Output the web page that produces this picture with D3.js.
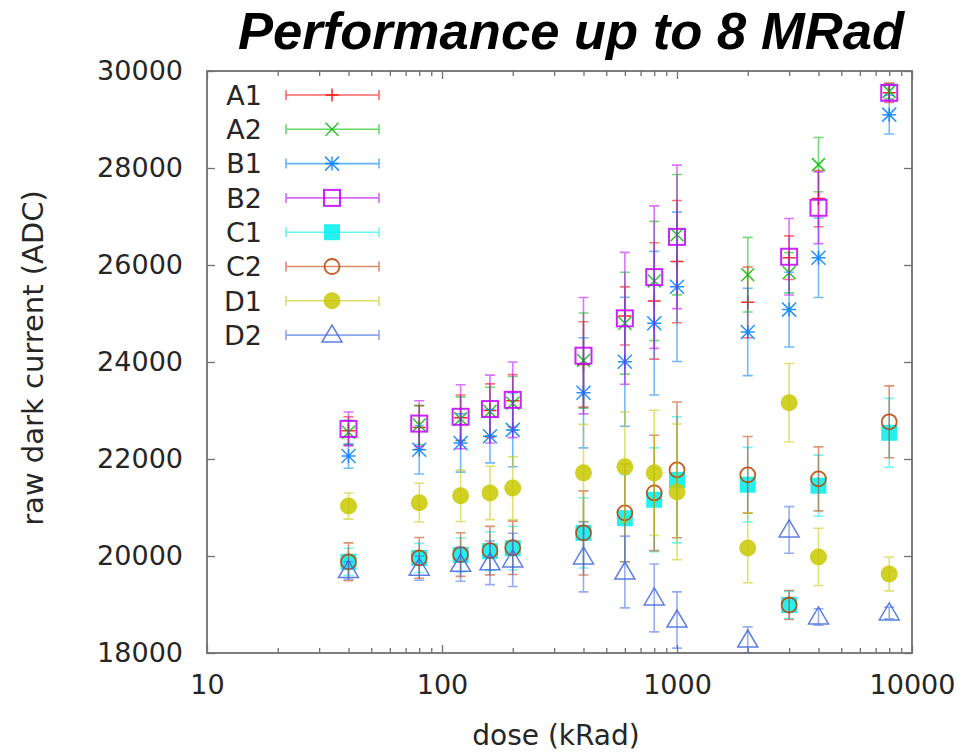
<!DOCTYPE html>
<html><head><meta charset="utf-8">
<script src="https://cdn.jsdelivr.net/npm/d3@7"></script>
<style>body{margin:0;background:#fff}svg{display:block}</style>
</head><body>
<svg id="c" width="973" height="754"></svg>
<script>
const doses = [40,80,120,160,200,400,600,800,1000,2000,3000,4000,8000];
const seriesNames = ["A1","A2","B1","B2","C1","C2","D1","D2"];
const seriesColors = ["#ff0000","#00c000","#0080ff","#c000ff","#00eeee","#c04000","#c8c800","#4169e1"];
const A1 = [22580,22650,22850,23000,23200,23950,24950,25260,26070,25230,26150,27370,29550];
const A1err = [290,450,470,550,540,880,600,1200,1260,730,450,580,200];
const A2 = [22550,22700,22830,22980,23150,24030,24800,25670,26625,25800,25840,28070,29580];
const A2err = [250,400,450,500,550,980,1050,1230,1240,770,415,560,150];
const B1 = [22060,22190,22330,22470,22600,23365,24005,24800,25550,24620,25080,26150,29100];
const B1err = [250,500,600,550,760,1135,1330,1480,1540,900,770,820,400];
const B2 = [22620,22730,22870,23030,23220,24130,24900,25750,26580,null,26170,27180,29550];
const B2err = [350,470,660,700,780,1200,1360,1470,1480,0,790,740,150];
const C1 = [19880,19960,20020,20100,20160,20476,20780,21160,21570,21470,18990,21450,22540];
const C1err = [280,300,350,400,450,724,900,1070,1300,770,280,630,710];
const C2 = [19880,19960,20030,20110,20170,20476,20890,21300,21776,21673,18990,21590,22767];
const C2err = [390,420,450,500,550,867,1010,1190,1400,790,300,660,740];
const D1 = [21030,21100,21240,21300,21400,21714,21838,21714,21322,20167,23159,19981,19630];
const D1err = [270,400,530,550,650,1000,1135,1290,1400,720,810,590,350];
const D2 = [19700,19750,19830,19860,19920,19980,19670,19135,18680,18268,20538,18743,18825];
const D2err = [180,250,350,450,550,720,740,700,580,270,480,170,120];
const xMajorTicks = [10,100,1000,10000];
const yTicks = [18000,20000,22000,24000,26000,28000,30000];
const title = "Performance up to 8 MRad";
const xLabel = "dose (kRad)";
const yLabel = "raw dark current (ADC)";

const values = [A1,A2,B1,B2,C1,C2,D1,D2];
const errs = [A1err,A2err,B1err,B2err,C1err,C2err,D1err,D2err];

const svg = d3.select("#c");
const L=207,R=912,T=71,B=653;
const x = d3.scaleLog().domain([10,10000]).range([L,R]);
const y = d3.scaleLinear().domain([18000,30000]).range([B,T]);
const font = "'DejaVu Sans', sans-serif";
const frameColor = "#707070";
const textColor = "#262626";

const minor = [];
for (let d=10; d<10000; d*=10) for (let k=2;k<10;k++) minor.push(d*k);

function styleAxis(g){ g.select(".domain").remove(); g.selectAll(".tick line").attr("stroke",frameColor).attr("stroke-width",1.3); }

svg.append("g").attr("transform",`translate(0,${B})`)
  .call(d3.axisBottom(x).tickValues(xMajorTicks).tickSize(-8).tickPadding(22).tickFormat(d3.format("d")))
  .call(styleAxis)
  .call(g=>g.selectAll("text").attr("font-family",font).attr("font-size",27).attr("fill",textColor));
svg.append("g").attr("transform",`translate(0,${B})`)
  .call(d3.axisBottom(x).tickValues(minor).tickSize(-5).tickFormat(""))
  .call(styleAxis);
svg.append("g").attr("transform",`translate(0,${T})`)
  .call(d3.axisTop(x).tickValues(xMajorTicks).tickSize(-8).tickFormat(""))
  .call(styleAxis);
svg.append("g").attr("transform",`translate(0,${T})`)
  .call(d3.axisTop(x).tickValues(minor).tickSize(-5).tickFormat(""))
  .call(styleAxis);
svg.append("g").attr("transform",`translate(${L},0)`)
  .call(d3.axisLeft(y).tickValues(yTicks).tickSize(-8).tickPadding(24).tickFormat(d3.format("d")))
  .call(styleAxis)
  .call(g=>g.selectAll("text").attr("font-family",font).attr("font-size",27).attr("fill",textColor));
svg.append("g").attr("transform",`translate(${R},0)`)
  .call(d3.axisRight(y).tickValues(yTicks).tickSize(-8).tickFormat(""))
  .call(styleAxis);

svg.append("rect").attr("x",L).attr("y",T).attr("width",R-L).attr("height",B-T)
  .attr("fill","none").attr("stroke",frameColor).attr("stroke-width",1.8);

svg.append("defs").append("clipPath").attr("id","clip")
  .append("rect").attr("x",L).attr("y",T).attr("width",R-L).attr("height",B-T);

function drawMarker(g, type, cx, cy, color){
  const h=6.5;
  if (type===0){
    g.append("path").attr("d",`M${cx-h},${cy}H${cx+h}M${cx},${cy-h}V${cy+h}`).attr("stroke",color).attr("stroke-width",1.5).attr("fill","none");
  } else if (type===1){
    g.append("path").attr("d",`M${cx-h},${cy-h}L${cx+h},${cy+h}M${cx-h},${cy+h}L${cx+h},${cy-h}`).attr("stroke",color).attr("stroke-width",1.5).attr("fill","none");
  } else if (type===2){
    const k=h+0.5;
    g.append("path").attr("d",`M${cx-k},${cy}H${cx+k}M${cx},${cy-k}V${cy+k}M${cx-k},${cy-k}L${cx+k},${cy+k}M${cx-k},${cy+k}L${cx+k},${cy-k}`).attr("stroke",color).attr("stroke-width",1.5).attr("fill","none");
  } else if (type===3){
    g.append("rect").attr("x",cx-8).attr("y",cy-8).attr("width",16).attr("height",16).attr("stroke",color).attr("stroke-width",2).attr("fill","none");
  } else if (type===4){
    g.append("rect").attr("x",cx-8).attr("y",cy-8).attr("width",16).attr("height",16).attr("fill",color);
  } else if (type===5){
    g.append("circle").attr("cx",cx).attr("cy",cy).attr("r",7.5).attr("stroke",color).attr("stroke-width",1.8).attr("fill","none");
  } else if (type===6){
    g.append("circle").attr("cx",cx).attr("cy",cy).attr("r",8.5).attr("fill",color);
  } else if (type===7){
    g.append("path").attr("d",`M${cx},${cy-10}L${cx+10},${cy+7}L${cx-10},${cy+7}Z`).attr("stroke",color).attr("stroke-width",1.5).attr("fill","none");
  }
}

const plot = svg.append("g").attr("clip-path","url(#clip)");
values.forEach((vals,si)=>{
  const color = seriesColors[si];
  const g = plot.append("g");
  vals.forEach((v,i)=>{
    if (v==null) return;
    const cx = x(doses[i]);
    const e = errs[si][i];
    const y1 = y(v+e), y2 = y(v-e);
    g.append("path").attr("d",`M${cx},${y1}V${y2}M${cx-5},${y1}H${cx+5}M${cx-5},${y2}H${cx+5}`)
      .attr("stroke",color).attr("stroke-width",1.6).attr("stroke-opacity",0.55).attr("fill","none");
  });
  const mg = g.append("g").attr("opacity",0.85);
  vals.forEach((v,i)=>{
    if (v==null) return;
    drawMarker(mg, si, x(doses[i]), y(v), color);
  });
});

const leg = svg.append("g");
seriesNames.forEach((name,i)=>{
  const ly = 95 + i*34.3;
  leg.append("text").attr("x",262).attr("y",ly).attr("dy","0.36em").attr("text-anchor","end")
    .attr("font-family",font).attr("font-size",27).attr("fill",textColor).text(name);
  const color = seriesColors[i];
  leg.append("path").attr("d",`M286,${ly}H379M286,${ly-5}V${ly+5}M379,${ly-5}V${ly+5}`)
    .attr("stroke",color).attr("stroke-width",1.6).attr("stroke-opacity",0.6).attr("fill","none");
  const mg = leg.append("g").attr("opacity",0.85);
  drawMarker(mg, i, 332, ly, color);
});

svg.append("text").attr("x",571).attr("y",49).attr("text-anchor","middle")
  .attr("font-family","'Liberation Sans', Arial, sans-serif").attr("font-weight","bold").attr("font-style","italic")
  .attr("font-size",52).attr("textLength",666).attr("lengthAdjust","spacingAndGlyphs")
  .attr("fill","#000").text(title);
svg.append("text").attr("x",556).attr("y",745).attr("text-anchor","middle")
  .attr("font-family",font).attr("font-size",28).attr("fill",textColor).text(xLabel);
svg.append("text").attr("transform","translate(43,358) rotate(-90)").attr("text-anchor","middle")
  .attr("font-family",font).attr("font-size",29).attr("fill",textColor).text(yLabel);
</script>
</body></html>
